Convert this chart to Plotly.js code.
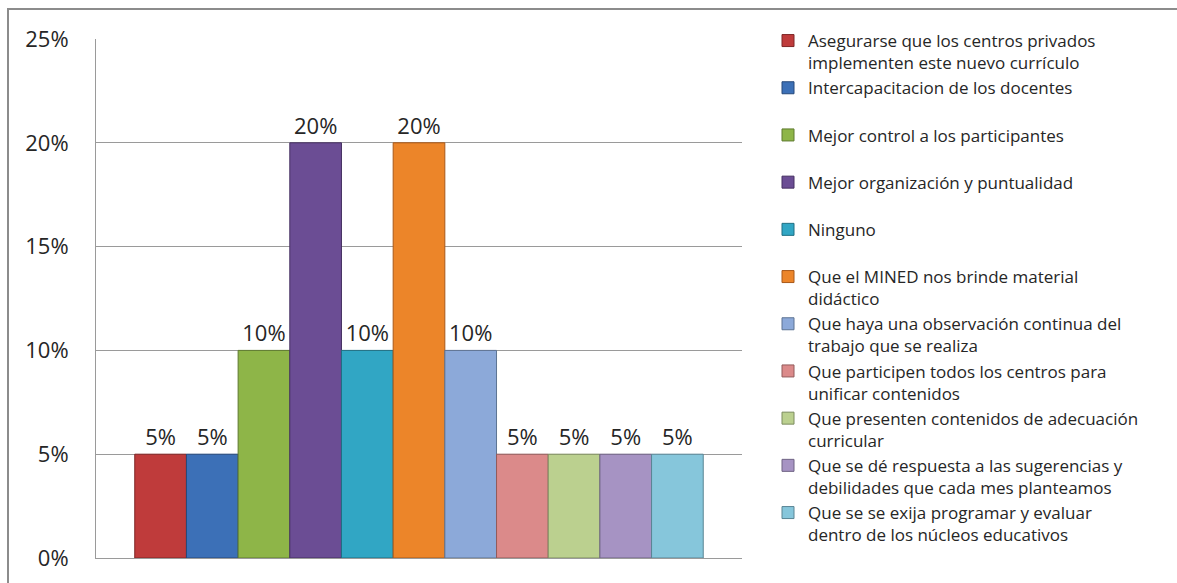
<!DOCTYPE html>
<html>
<head>
<meta charset="utf-8">
<script src="https://cdn.plot.ly/plotly-3.0.1.min.js"></script>
<style>
html,body{margin:0;padding:0;background:#fff;}
#chart{width:1177px;height:583px;}
</style>
</head>
<body>
<div id="chart"></div>
<script>
// Data
var categories = [
  "Asegurarse que los centros privados<br>implementen este nuevo currículo",
  "Intercapacitacion de los docentes",
  "Mejor control a los participantes",
  "Mejor organización y puntualidad",
  "Ninguno",
  "Que el MINED nos brinde material<br>didáctico",
  "Que haya una observación continua del<br>trabajo que se realiza",
  "Que participen todos los centros para<br>unificar contenidos",
  "Que presenten contenidos de adecuación<br>curricular",
  "Que se dé respuesta a las sugerencias y<br>debilidades que cada mes planteamos",
  "Que se se exija programar y evaluar<br>dentro de los núcleos educativos"
];
var values = [0.05, 0.05, 0.10, 0.20, 0.10, 0.20, 0.10, 0.05, 0.05, 0.05, 0.05];
var yTicks = [0, 0.05, 0.10, 0.15, 0.20, 0.25];

// Styles
var colors = ["#BF3B3B", "#3C70B7", "#8EB548", "#6B4D94", "#31A6C4", "#EC8529",
              "#8CA9D9", "#DB8A8A", "#BBD08F", "#A693C3", "#86C6DB"];
var edges = ["#7E2626", "#26497A", "#5E7A2E", "#463162", "#1F6F83", "#A8591A",
             "#5D7393", "#925B5B", "#7D8C5F", "#6E6283", "#5A8594"];

var traces = categories.map(function (name, i) {
  var legendName = name.indexOf("<br>") >= 0 ? name : name + "<br> ";
  return {
    type: "bar",
    x: ["a"],
    y: [values[i]],
    name: legendName,
    marker: {color: colors[i], line: {color: edges[i], width: 1}},
    text: [Math.round(values[i] * 100) + "%"],
    textposition: "outside",
    textfont: {family: "Open Sans", size: 22, color: "#262626"},
    cliponaxis: false,
    hoverinfo: "skip"
  };
});

var L = 96, R = 435, T = 39, B = 25;
var pw = 1177 - L - R, ph = 583 - T - B;

var layout = {
  width: 1177,
  height: 583,
  margin: {l: L, r: R, t: T, b: B, pad: 0},
  paper_bgcolor: "#ffffff",
  plot_bgcolor: "#ffffff",
  font: {family: "Open Sans", color: "#262626"},
  barmode: "group",
  bargap: 0.12,
  bargroupgap: 0,
  showlegend: true,
  legend: {
    x: (768 - L) / pw,
    xanchor: "left",
    y: (583 - B - 23) / ph,
    yanchor: "top",
    valign: "top",
    maxheight: 583,
    font: {family: "Open Sans", size: 17, color: "#262626"},
    bgcolor: "rgba(0,0,0,0)",
    traceorder: "normal",
    itemclick: false
  },
  xaxis: {
    showticklabels: false,
    ticks: "",
    showgrid: false,
    zeroline: false,
    showline: true,
    linecolor: "#9A9A9A",
    linewidth: 1,
    fixedrange: true
  },
  yaxis: {
    range: [0, 0.25],
    tickvals: yTicks,
    tickformat: ".0%",
    ticks: "",
    ticklabelstandoff: 22,
    tickfont: {family: "Open Sans", size: 22, color: "#262626"},
    showgrid: true,
    gridcolor: "#9A9A9A",
    gridwidth: 1,
    zeroline: false,
    showline: true,
    linecolor: "#9A9A9A",
    linewidth: 1,
    fixedrange: true
  },
  shapes: [{
    type: "rect",
    xref: "paper", yref: "paper",
    x0: (8 - L) / pw, x1: (1200 - L) / pw,
    y0: (583 - B - 600) / ph, y1: (583 - B - 9) / ph,
    line: {color: "#8C8C8C", width: 2},
    fillcolor: "rgba(0,0,0,0)",
    layer: "above"
  }]
};

Plotly.newPlot("chart", traces, layout, {displayModeBar: false, staticPlot: true});
</script>
</body>
</html>
